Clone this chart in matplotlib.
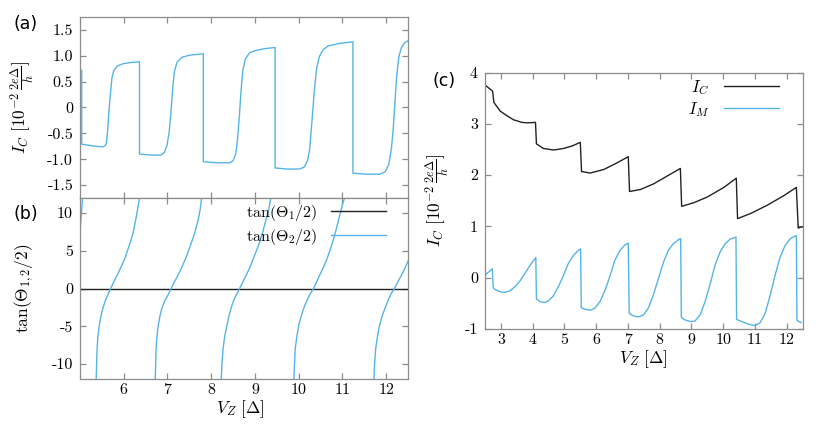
import matplotlib
matplotlib.use("Agg")
import matplotlib.pyplot as plt

# ---- data ----
# (a) I_C vs V_Z
ia_x = [5.0, 5.04, 5.04, 5.20, 5.35, 5.52, 5.57, 5.60, 5.63, 5.66, 5.70, 5.73, 5.77, 5.85, 5.98, 6.17, 6.36,
        6.36, 6.63, 6.85, 6.93, 6.99, 7.04, 7.08, 7.12, 7.16, 7.22, 7.33, 7.50, 7.82,
        7.82, 8.15, 8.42, 8.50, 8.56, 8.60, 8.645, 8.68, 8.72, 8.78, 8.88, 9.05, 9.25, 9.46,
        9.46, 9.72, 10.02, 10.13, 10.20, 10.25, 10.30, 10.36, 10.41, 10.47, 10.55, 10.67, 10.94, 11.24,
        11.24, 11.55, 11.85, 11.98, 12.06, 12.12, 12.16, 12.20, 12.24, 12.29, 12.35, 12.42, 12.50]
ia_y = [0.72, 0.72, -0.71, -0.73, -0.75, -0.76, -0.74, -0.70, -0.47, -0.08, 0.31, 0.57, 0.71, 0.80, 0.845, 0.87, 0.885,
        -0.90, -0.92, -0.92, -0.87, -0.73, -0.47, -0.08, 0.38, 0.70, 0.88, 0.97, 1.01, 1.04,
        -1.05, -1.07, -1.07, -1.03, -0.90, -0.63, -0.15, 0.30, 0.70, 0.94, 1.06, 1.11, 1.14, 1.16,
        -1.17, -1.19, -1.19, -1.15, -1.03, -0.82, -0.30, 0.35, 0.75, 0.98, 1.11, 1.19, 1.24, 1.27,
        -1.27, -1.29, -1.29, -1.24, -1.10, -0.80, -0.43, 0.09, 0.60, 0.98, 1.16, 1.25, 1.29]

# (b) tan(theta/2), one list per branch of tan(theta2/2)
th1_x = [5.0, 12.5]
th1_y = [0.0, 0.0]
th2_x = [
    [5.0, 5.02, 5.04, 5.055],
    [5.37, 5.38, 5.39, 5.41, 5.44, 5.48, 5.52, 5.58, 5.63, 5.70, 5.79, 5.87, 5.94, 6.02,
     6.09, 6.16, 6.21, 6.28, 6.32, 6.36],
    [6.72, 6.73, 6.74, 6.76, 6.79, 6.83, 6.87, 6.94, 7.01, 7.08, 7.20, 7.28, 7.35, 7.43,
     7.50, 7.56, 7.62, 7.71, 7.75, 7.78],
    [8.23, 8.245, 8.27, 8.31, 8.36, 8.41, 8.47, 8.52, 8.57, 8.65, 8.80, 8.88, 8.95, 9.03,
     9.11, 9.17, 9.22, 9.32, 9.36],
    [9.89, 9.905, 9.92, 9.96, 10.0, 10.07, 10.14, 10.22, 10.29, 10.34, 10.48, 10.57, 10.65,
     10.73, 10.80, 10.86, 10.92, 11.01, 11.05],
    [11.72, 11.735, 11.76, 11.80, 11.84, 11.90, 11.97, 12.05, 12.12, 12.19, 12.27, 12.35,
     12.43, 12.5],
]
th2_y = [
    [7.5, 9.0, 10.5, 12.0],
    [-12, -10, -8, -6.3, -4.9, -3.6, -2.66, -1.6, -0.89, 0, 1.10, 2.0, 2.87, 3.9,
     5.09, 6.3, 7.30, 9.30, 10.6, 12],
    [-12, -10, -8, -6.3, -4.87, -3.6, -2.66, -1.6, -0.89, 0, 1.33, 2.2, 3.1, 4.2,
     5.3, 6.3, 7.3, 9.3, 10.6, 12],
    [-12, -10, -8, -6.3, -4.9, -3.5, -2.3, -1.5, -0.9, 0, 1.77, 2.75, 3.76, 4.95,
     6.19, 7.3, 8.4, 10.6, 12],
    [-12, -10, -8, -6.3, -4.87, -3.4, -2.22, -1.2, -0.45, 0, 1.77, 2.85, 3.98,
     5.3, 6.64, 7.9, 9.30, 11.3, 12],
    [-12, -10, -8, -6.4, -5.1, -3.8, -2.66, -1.5, -0.6, 0, 0.9, 1.77,
     2.7, 3.63],
]

# (c) I_C and I_M over the wider range
ic_x = [2.5, 2.74, 2.78, 2.98, 3.19, 3.40, 3.66, 3.85, 4.09, 4.12,
        4.34, 4.66, 4.97, 5.25, 5.50, 5.54, 5.81, 6.24, 6.66, 7.01, 7.05,
        7.40, 7.81, 8.23, 8.65, 8.69, 9.07, 9.49, 10.02, 10.41, 10.45,
        10.86, 11.38, 11.91, 12.30, 12.36, 12.42, 12.5]
ic_y = [3.76, 3.64, 3.42, 3.25, 3.16, 3.08, 3.03, 3.02, 3.03, 2.61,
        2.52, 2.49, 2.52, 2.57, 2.64, 2.07, 2.04, 2.11, 2.24, 2.36, 1.68,
        1.72, 1.83, 1.98, 2.13, 1.39, 1.46, 1.57, 1.76, 1.94, 1.15,
        1.25, 1.41, 1.60, 1.76, 0.965, 0.98, 0.99]
im_x = [2.5, 2.73, 2.76, 2.81, 2.97, 3.13, 3.29, 3.44, 3.60, 3.76, 3.92, 4.10,
        4.12, 4.23, 4.37, 4.49, 4.65, 4.81, 4.97, 5.12, 5.28, 5.44, 5.51,
        5.53, 5.65, 5.81, 5.96, 6.12, 6.28, 6.44, 6.59, 6.75, 6.91, 7.01,
        7.04, 7.17, 7.33, 7.49, 7.64, 7.80, 7.96, 8.12, 8.27, 8.43, 8.59, 8.66,
        8.68, 8.80, 8.96, 9.11, 9.27, 9.43, 9.59, 9.74, 9.90, 10.06, 10.22, 10.40,
        10.42, 10.58, 10.79, 11.00, 11.16, 11.32, 11.48, 11.63, 11.79, 11.95, 12.11, 12.30,
        12.32, 12.45]
im_y = [0.045, 0.17, -0.20, -0.23, -0.28, -0.29, -0.26, -0.18, -0.07, 0.08, 0.24, 0.39,
        -0.42, -0.47, -0.49, -0.46, -0.36, -0.18, 0.04, 0.27, 0.43, 0.53, 0.56,
        -0.59, -0.62, -0.64, -0.60, -0.47, -0.25, 0.04, 0.34, 0.53, 0.64, 0.67,
        -0.70, -0.75, -0.77, -0.73, -0.60, -0.34, -0.02, 0.30, 0.53, 0.66, 0.74, 0.76,
        -0.78, -0.83, -0.86, -0.85, -0.73, -0.47, -0.12, 0.24, 0.50, 0.66, 0.75, 0.79,
        -0.82, -0.86, -0.91, -0.94, -0.88, -0.70, -0.34, 0.04, 0.40, 0.63, 0.76, 0.82,
        -0.84, -0.88]

ticks_a_y = [-1.5, -1.0, -0.5, 0, 0.5, 1.0, 1.5]
labels_a_y = ['-1.5', '-1.0', '-0.5', '0', '0.5', '1.0', '1.5']
ticks_b_y = [-10, -5, 0, 5, 10]
labels_b_y = ['-10', '-5', '0', '5', '10']
ticks_ab_x = [6, 7, 8, 9, 10, 11, 12]
ticks_c_x = [3, 4, 5, 6, 7, 8, 9, 10, 11, 12]
ticks_c_y = [-1, 0, 1, 2, 3, 4]

blue = '#56b4e9'
black = '#222222'
gray = '#8c8c8c'

plt.rcParams['mathtext.fontset'] = 'cm'
plt.rcParams['font.family'] = ['cmr10', 'DejaVu Serif']
plt.rcParams['axes.unicode_minus'] = False
plt.rcParams['axes.formatter.use_mathtext'] = True

fig = plt.figure(figsize=(8.3, 4.34), dpi=100)
ax_a = fig.add_axes([0.0964, 0.5438, 0.3952, 0.4171])
ax_b = fig.add_axes([0.0964, 0.1267, 0.3952, 0.4171])
ax_c = fig.add_axes([0.5843, 0.2426, 0.3828, 0.5899])


def style(ax):
    for s in ax.spines.values():
        s.set_color(gray)
        s.set_linewidth(0.9)
    ax.tick_params(direction='in', length=4.5, width=0.9, color=gray,
                   top=True, right=True, labelsize=11.5)
    ax.tick_params(axis='y', pad=5.0)
    ax.tick_params(axis='x', pad=3.0)


ylab = r'$I_C\ [10^{-2}\,\frac{2e\Delta}{h}]$'
xlab = r'$V_Z\ [\Delta]$'

# (a)
ax_a.plot(ia_x, ia_y, color=blue, lw=1.0)
ax_a.set_xlim(5.0, 12.5)
ax_a.set_ylim(-1.75, 1.75)
ax_a.set_xticks(ticks_ab_x)
ax_a.set_xticklabels([])
ax_a.set_yticks(ticks_a_y)
ax_a.set_yticklabels(labels_a_y)
style(ax_a)
ax_a.set_ylabel(ylab, fontsize=12.5)
ax_a.yaxis.set_label_coords(-0.13, 0.5)

# (b)
ax_b.plot(th1_x, th1_y, color=black, lw=1.0, label=r'$\tan(\Theta_1/2)$')
for k in range(len(th2_x)):
    ax_b.plot(th2_x[k], th2_y[k], color=blue, lw=1.0,
              label=r'$\tan(\Theta_2/2)$' if k == 0 else None)
ax_b.set_xlim(5.0, 12.5)
ax_b.set_ylim(-12, 12)
ax_b.set_xticks(ticks_ab_x)
ax_b.set_xticklabels([str(t) for t in ticks_ab_x])
ax_b.set_yticks(ticks_b_y)
ax_b.set_yticklabels(labels_b_y)
style(ax_b)
ax_b.set_ylabel(r'$\tan(\Theta_{1,2}/2)$', fontsize=12.5)
ax_b.yaxis.set_label_coords(-0.135, 0.5)
ax_b.set_xlabel(xlab, fontsize=12.5)
ax_b.xaxis.set_label_coords(0.488, -0.108)
ax_b.legend(loc='upper right', bbox_to_anchor=(0.932, 0.975), frameon=False,
            markerfirst=False, handlelength=3.4, handletextpad=0.85,
            borderpad=0, borderaxespad=0, labelspacing=0.25, fontsize=11.5)

# (c)
ax_c.plot(ic_x, ic_y, color=black, lw=1.0, label=r'$I_C$')
ax_c.plot(im_x, im_y, color=blue, lw=1.0, label=r'$I_M$')
ax_c.set_xlim(2.5, 12.5)
ax_c.set_ylim(-1, 4)
ax_c.set_xticks(ticks_c_x)
ax_c.set_xticklabels([str(t) for t in ticks_c_x])
ax_c.set_yticks(ticks_c_y)
ax_c.set_yticklabels([str(t) for t in ticks_c_y])
style(ax_c)
ax_c.set_ylabel(ylab, fontsize=12.5)
ax_c.yaxis.set_label_coords(-0.105, 0.5)
ax_c.set_xlabel(xlab, fontsize=12.5)
ax_c.xaxis.set_label_coords(0.497, -0.078)
ax_c.legend(loc='upper right', bbox_to_anchor=(0.925, 0.98), frameon=False,
            markerfirst=False, handlelength=3.3, handletextpad=0.85,
            borderpad=0, borderaxespad=0, labelspacing=0.2, fontsize=12)

# panel letters
fig.text(0.016, 0.945, '(a)', family='DejaVu Sans', fontsize=12.5, va='center')
fig.text(0.016, 0.508, '(b)', family='DejaVu Sans', fontsize=12.5, va='center')
fig.text(0.521, 0.814, '(c)', family='DejaVu Sans', fontsize=12.5, va='center')

fig.savefig('out.png', dpi=100)
